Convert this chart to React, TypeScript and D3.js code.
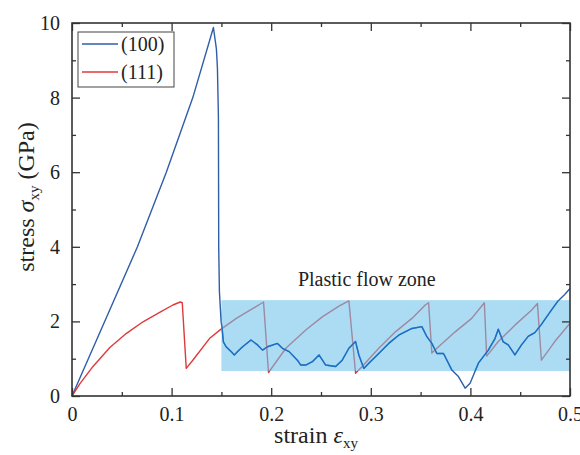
import React, { useEffect, useRef } from "react";
import { axisBottom, axisLeft, axisRight, axisTop, line, scaleLinear, select } from "d3";

const strain100 = [
  0, 0.0657, 0.0947, 0.1213, 0.142, 0.145, 0.146, 0.147, 0.1473, 0.148, 0.1497, 0.1507, 0.152,
  0.1547, 0.1597, 0.163, 0.1663, 0.1713, 0.1797, 0.1863, 0.1913, 0.1963, 0.2063, 0.2113, 0.218,
  0.2263, 0.2297, 0.2347, 0.2413, 0.248, 0.2547, 0.2647, 0.2713, 0.278, 0.2847, 0.288, 0.293,
  0.298, 0.308, 0.318, 0.328, 0.3413, 0.3513, 0.3563, 0.3613, 0.3663, 0.373, 0.3813, 0.388,
  0.3947, 0.3997, 0.408, 0.418, 0.4247, 0.428, 0.433, 0.438, 0.4447, 0.4513, 0.458, 0.4647,
  0.4713, 0.4813, 0.488, 0.4947, 0.5,
];
const stress100 = [
  0, 4, 6, 8, 9.88, 9.3, 8.8, 7.5, 4.0, 2.8, 2.0, 1.81, 1.45, 1.32, 1.19, 1.1, 1.19, 1.32, 1.5,
  1.37, 1.23, 1.32, 1.41, 1.28, 1.19, 0.96, 0.83, 0.83, 0.92, 1.1, 0.83, 0.79, 0.96, 1.28, 1.46,
  1.1, 0.74, 0.88, 1.14, 1.41, 1.63, 1.81, 1.86, 1.59, 1.41, 1.14, 1.14, 0.7, 0.52, 0.21, 0.34,
  0.88, 1.23, 1.54, 1.79, 1.45, 1.37, 1.1, 1.37, 1.6, 1.7, 1.92, 2.3, 2.55, 2.72, 2.88,
];

const strain111 = [
  0, 0.008, 0.0213, 0.038, 0.0547, 0.0713, 0.088, 0.1013, 0.1087, 0.1107, 0.1147, 0.1213, 0.138,
  0.149, 0.165, 0.18, 0.1923, 0.1973, 0.2147, 0.2347, 0.2513, 0.268, 0.278, 0.2847, 0.2913, 0.308,
  0.3247, 0.3413, 0.3547, 0.358, 0.3613, 0.368, 0.3847, 0.4013, 0.414, 0.4163, 0.428, 0.4447,
  0.4613, 0.4673, 0.4713, 0.4847, 0.5,
];
const stress111 = [
  0, 0.33, 0.8, 1.3, 1.68, 1.99, 2.24, 2.44, 2.52, 2.5, 0.74, 0.96, 1.54, 1.78, 2.08, 2.32,
  2.52, 0.63, 1.28, 1.77, 2.12, 2.41, 2.55, 0.61, 0.79, 1.28, 1.72, 2.08, 2.44, 2.5, 1.15, 1.32,
  1.72, 2.08, 2.5, 1.07, 1.46, 1.9, 2.3, 2.48, 0.96, 1.46, 1.95,
];

const xTicks = [0, 0.1, 0.2, 0.3, 0.4, 0.5];
const xMinor = [0.05, 0.15, 0.25, 0.35, 0.45];
const yTicks = [0, 2, 4, 6, 8, 10];
const yMinor = [1, 3, 5, 7, 9];
const zone = { x0: 0.15, x1: 0.5, y0: 0.67, y1: 2.57 };
const series = [
  { name: "(100)", color: "#2f5ea8" },
  { name: "(111)", color: "#e0393b" },
];

const W = 580;
const H = 455;
const m = { left: 72, right: 10, top: 23, bottom: 59 };
const serif = "Liberation Serif, DejaVu Serif";

const x = scaleLinear().domain([0, 0.5]).range([m.left, W - m.right]);
const y = scaleLinear().domain([0, 10]).range([H - m.bottom, m.top]);

const App = () => {
  const axRef = useRef<SVGGElement>(null);

  useEffect(() => {
    const g = select(axRef.current);
    g.selectAll("*").remove();
    const font = (sel: any) => {
      sel.selectAll("text").attr("font-family", serif).attr("font-size", 20).attr("fill", "#222");
      sel.selectAll("line").attr("stroke", "#333").attr("stroke-width", 1.3);
      sel.select(".domain").remove();
    };
    const b = H - m.bottom;
    g.append("g").attr("transform", `translate(0,${b})`)
      .call(axisBottom(x).tickValues(xTicks).tickSize(-8).tickPadding(11).tickFormat((d: any) => (d === 0 ? "0" : String(d))))
      .call(font);
    g.append("g").attr("transform", `translate(0,${b})`)
      .call(axisBottom(x).tickValues(xMinor).tickSize(-4).tickFormat(() => "")).call(font);
    g.append("g").attr("transform", `translate(0,${m.top})`)
      .call(axisTop(x).tickValues(xTicks).tickSize(-8).tickFormat(() => "")).call(font);
    g.append("g").attr("transform", `translate(0,${m.top})`)
      .call(axisTop(x).tickValues(xMinor).tickSize(-4).tickFormat(() => "")).call(font);
    g.append("g").attr("transform", `translate(${m.left},0)`)
      .call(axisLeft(y).tickValues(yTicks).tickSize(-8).tickPadding(12)).call(font);
    g.append("g").attr("transform", `translate(${m.left},0)`)
      .call(axisLeft(y).tickValues(yMinor).tickSize(-4).tickFormat(() => "")).call(font);
    g.append("g").attr("transform", `translate(${W - m.right},0)`)
      .call(axisRight(y).tickValues(yTicks).tickSize(-8).tickFormat(() => "")).call(font);
    g.append("g").attr("transform", `translate(${W - m.right},0)`)
      .call(axisRight(y).tickValues(yMinor).tickSize(-4).tickFormat(() => "")).call(font);
  }, []);

  const path = line<number>()
    .x((_, i) => x(strain100[i]))
    .y((d) => y(d));
  const path2 = line<number>()
    .x((_, i) => x(strain111[i]))
    .y((d) => y(d));
  const d100 = path(stress100) || "";
  const d111 = path2(stress111) || "";

  return (
    <svg width={W} height={H} style={{ position: "absolute", left: 0, top: 0, background: "#fff" }} fontFamily={serif} fill="#222">
      <defs>
        <clipPath id="zoneClip">
          <rect x={x(zone.x0)} y={y(zone.y1)} width={x(zone.x1) - x(zone.x0)} height={y(zone.y0) - y(zone.y1)} />
        </clipPath>
      </defs>
      <path d={d100} fill="none" stroke={series[0].color} strokeWidth={1.4} strokeLinejoin="round" />
      <path d={d111} fill="none" stroke={series[1].color} strokeWidth={1.4} strokeLinejoin="round" />
      <rect
        x={x(zone.x0)}
        y={y(zone.y1)}
        width={x(zone.x1) - x(zone.x0)}
        height={y(zone.y0) - y(zone.y1)}
        fill="#6ec3ec"
        opacity={0.58}
      />
      <path d={d100} fill="none" stroke="#1a6ec4" strokeWidth={1.4} strokeLinejoin="round" clipPath="url(#zoneClip)" />
      <text x={x(0.296)} y={286} textAnchor="middle" fontSize={20}>
        Plastic flow zone
      </text>
      <g ref={axRef} />
      <rect x={m.left} y={m.top} width={W - m.left - m.right} height={H - m.top - m.bottom} fill="none" stroke="#333" strokeWidth={1.6} />
      <g>
        <rect x={78} y={32} width={96} height={55} fill="#fff" stroke="#444" strokeWidth={1} />
        {series.map((s, i) => (
          <g key={s.name} transform={`translate(0,${44 + i * 28})`}>
            <line x1={82} x2={118} y1={0} y2={0} stroke={s.color} strokeWidth={1.4} />
            <text x={121} y={7} fontSize={20}>
              {s.name}
            </text>
          </g>
        ))}
      </g>
      <text x={316} y={443} textAnchor="middle" fontSize={24}>
        strain <tspan fontStyle="italic">ε</tspan>
        <tspan fontSize={15} dy={5}>xy</tspan>
      </text>
      <text transform={`translate(34,197) rotate(-90)`} textAnchor="middle" fontSize={24}>
        stress <tspan fontStyle="italic">σ</tspan>
        <tspan fontSize={15} dy={5}>xy</tspan>
        <tspan dy={-5}> (GPa)</tspan>
      </text>
    </svg>
  );
};

export default App;
